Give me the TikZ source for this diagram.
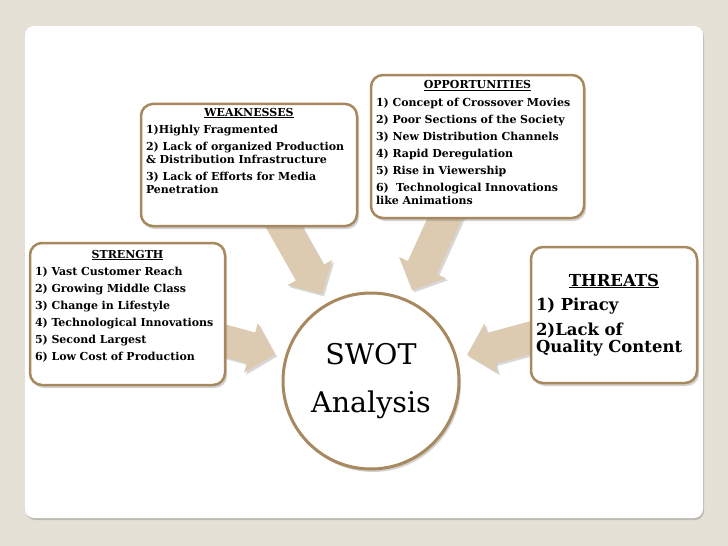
\documentclass[tikz,border=0pt]{standalone}
\usepackage{fontspec}
\setmainfont{DejaVu Serif}
\usetikzlibrary{arrows.meta,shadows}
\definecolor{swotbg}{HTML}{E6E1D7}
\definecolor{swotborder}{HTML}{A8895F}
\definecolor{swotarrow}{HTML}{DCCAB1}
\pgfdeclarelayer{bg}
\pgfsetlayers{bg,main}
\newcommand{\boxhead}[1]{\makebox[\hsize]{\underline{#1}}}

\begin{document}
\begin{tikzpicture}[x=1pt,y=-1pt,line join=round,
  box/.style={draw=swotborder,line width=2.5pt,fill=white,rounded corners=12pt,
    drop shadow={opacity=0.35,shadow xshift=2pt,shadow yshift=-3pt},
    inner xsep=5pt,inner ysep=4pt,align=left,
    font=\fontsize{11}{13}\selectfont\bfseries},
  bigarrow/.style={swotarrow,line width=32pt,shorten >=10pt,
    -{Triangle[length=25pt,width=50pt]}},
  bigshadow/.style={black!30,opacity=0.5,line width=32pt,shorten >=10pt,
    -{Triangle[length=25pt,width=50pt]},transform canvas={shift={(2pt,-2pt)}}}]
\useasboundingbox (0,0) rectangle (728,546);
\begin{pgfonlayer}{bg}
\fill[swotbg] (0,0) rectangle (728,546);
\fill[white,rounded corners=9pt,drop shadow={opacity=0.4,shadow xshift=1pt,shadow yshift=-2pt}]
  (25,26) rectangle (703,518);
\end{pgfonlayer}

\node[box,text width=206pt,minimum width=216pt,minimum height=106pt] (wk) at (249,165)
  {\boxhead{WEAKNESSES}\\[4pt]
   1)Highly Fragmented\\[4pt]
   2) Lack of organized Production\\
   \& Distribution Infrastructure\\[4pt]
   3) Lack of Efforts for Media\\
   Penetration\\[16pt]\mbox{}};
\node[box,text width=203pt,minimum width=213pt,minimum height=143pt] (op) at (477.5,146.5)
  {\boxhead{OPPORTUNITIES}\\[5pt]
   1) Concept of Crossover Movies\\[4pt]
   2) Poor Sections of the Society\\[4pt]
   3) New Distribution Channels\\[4pt]
   4) Rapid Deregulation\\[4pt]
   5) Rise in Viewership\\[4pt]
   6)~~Technological Innovations\\
   like Animations\\[-5pt]\mbox{}};
\node[box,text width=185pt,minimum width=195pt,minimum height=142pt] (st) at (127.5,314)
  {\boxhead{STRENGTH}\\[4pt]
   1) Vast Customer Reach\\[4pt]
   2) Growing Middle Class\\[4pt]
   3) Change in Lifestyle\\[4pt]
   4) Technological Innovations\\[4pt]
   5) Second Largest\\[4pt]
   6) Low Cost of Production\\[5pt]\mbox{}};
\node[box,text width=156pt,minimum width=166pt,minimum height=136pt,
  font=\fontsize{16.5}{17.5}\selectfont\bfseries] (th) at (614,315)
  {\boxhead{THREATS}\\[7pt]
   1) Piracy\\[7pt]
   2)Lack of\\
   Quality Content};
\node[circle,draw=swotborder,line width=3pt,fill=white,minimum size=176pt,inner sep=0pt,
  drop shadow={opacity=0.35,shadow xshift=2pt,shadow yshift=-3pt},
  align=center,font=\fontsize{28.5}{48}\selectfont] (swot) at (371,381)
  {SWOT\\Analysis};

\begin{pgfonlayer}{bg}
\foreach \s in {wk,op,st,th}{
  \draw[bigshadow] (\s.center) -- (swot);
  \draw[bigarrow] (\s.center) -- (swot);
}
\end{pgfonlayer}
\end{tikzpicture}
\end{document}
